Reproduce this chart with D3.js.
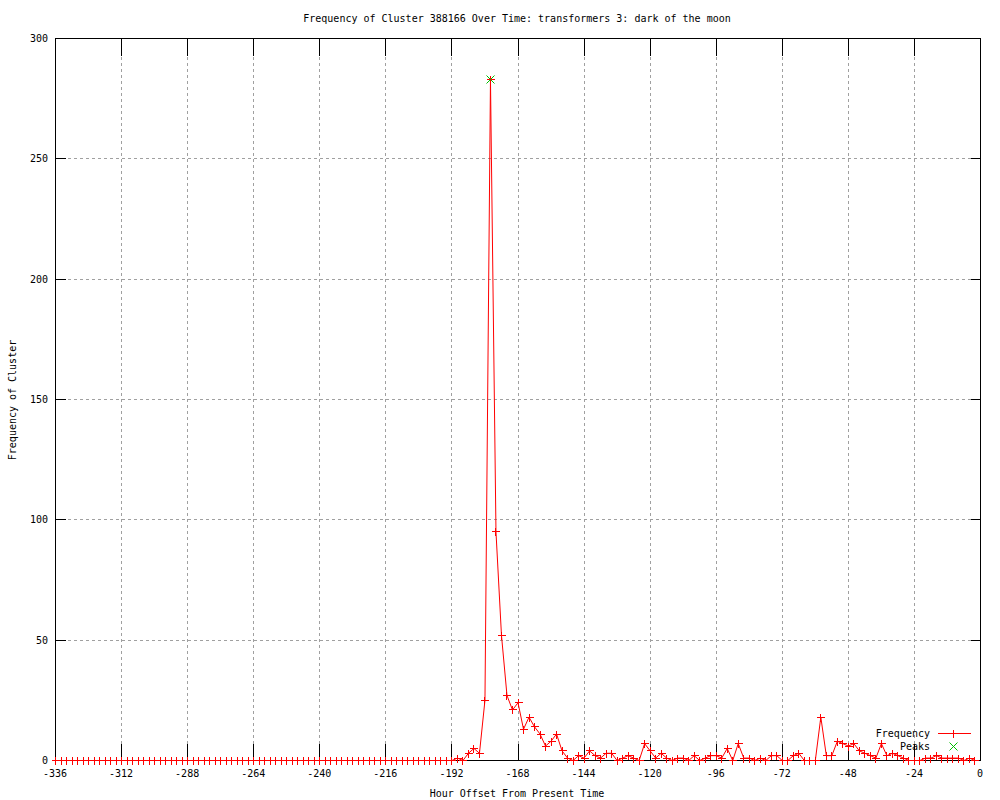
<!DOCTYPE html>
<html>
<head>
<meta charset="utf-8">
<script src="https://cdn.jsdelivr.net/npm/d3@7"></script>
<style>
  html, body { margin: 0; padding: 0; background: #fff; }
  svg { display: block; }
  text { font-family: "DejaVu Sans Mono", "Liberation Mono", monospace; font-size: 10px; fill: #000; }
</style>
</head>
<body>
<svg id="chart" width="1000" height="800"></svg>
<script>
const titleText = "Frequency of Cluster 388166 Over Time: transformers 3: dark of the moon";
const xLabel = "Hour Offset From Present Time";
const yLabel = "Frequency of Cluster";
const seriesNames = ["Frequency", "Peaks"];

const hours = [
  -336,-334,-332,-330,-328,-326,-324,-322,-320,-318,-316,-314,-312,-310,-308,-306,-304,-302,-300,-298,
  -296,-294,-292,-290,-288,-286,-284,-282,-280,-278,-276,-274,-272,-270,-268,-266,-264,-262,-260,-258,
  -256,-254,-252,-250,-248,-246,-244,-242,-240,-238,-236,-234,-232,-230,-228,-226,-224,-222,-220,-218,
  -216,-214,-212,-210,-208,-206,-204,-202,-200,-198,-196,-194,-192,-190,-188,-186,-184,-182,-180,-178,
  -176,-174,-172,-170,-168,-166,-164,-162,-160,-158,-156,-154,-152,-150,-148,-146,-144,-142,-140,-138,
  -136,-134,-132,-130,-128,-126,-124,-122,-120,-118,-116,-114,-112,-110,-108,-106,-104,-102,-100,-98,
  -96,-94,-92,-90,-88,-86,-84,-82,-80,-78,-76,-74,-72,-70,-68,-66,-64,-62,-60,-58,
  -56,-54,-52,-50,-48,-46,-44,-42,-40,-38,-36,-34,-32,-30,-28,-26,-24,-22,-20,-18,
  -16,-14,-12,-10,-8,-6,-4,-2
];
const frequency = [
  0,0,0,0,0,0,0,0,0,0,0,0,0,0,0,0,0,0,0,0,
  0,0,0,0,0,0,0,0,0,0,0,0,0,0,0,0,0,0,0,0,
  0,0,0,0,0,0,0,0,0,0,0,0,0,0,0,0,0,0,0,0,
  0,0,0,0,0,0,0,0,0,0,0,0,0,1,0,3,5,3,25,283,
  95,52,27,21,24,13,18,14,11,6,8,11,4,1,0,2,1,4,2,1,
  3,3,0,1,2,1,0,7,4,1,3,1,0,1,1,0,2,0,1,2,
  2,1,5,0,7,1,1,0,1,0,2,2,0,0,2,3,0,0,0,18,
  2,2,8,7,6,7,4,3,2,1,7,2,3,2,1,0,0,0,1,1,
  2,1,1,1,1,0,1,0
];
const peakHours = [-178];
const peakValues = [283];

const xTicks = [-336,-312,-288,-264,-240,-216,-192,-168,-144,-120,-96,-72,-48,-24,0];
const yTicks = [0,50,100,150,200,250,300];

const RED = "#ff0000", GREEN = "#00c000";
const data = hours.map((h, i) => ({h, v: frequency[i]}));
const peaks = peakHours.map((h, i) => ({h, v: peakValues[i]}));

const L = 55, R = 980, T = 38, B = 760;
const svg = d3.select("#chart");
const g = svg.append("g").attr("transform", "translate(0.5,0.5)");

const x = d3.scaleLinear().domain([-336, 0]).range([L, R]);
const y = d3.scaleLinear().domain([0, 300]).range([B, T]);

// grid
g.append("g").selectAll("line").data(xTicks.slice(1, -1)).join("line")
  .attr("x1", d => Math.round(x(d))).attr("x2", d => Math.round(x(d)))
  .attr("y1", T).attr("y2", B)
  .attr("stroke", "#a0a0a0").attr("stroke-dasharray", "3,3")
  .attr("shape-rendering", "crispEdges");
g.append("g").selectAll("line").data(yTicks.slice(1, -1)).join("line")
  .attr("y1", d => Math.round(y(d))).attr("y2", d => Math.round(y(d)))
  .attr("x1", L).attr("x2", R)
  .attr("stroke", "#a0a0a0").attr("stroke-dasharray", "3,3")
  .attr("shape-rendering", "crispEdges");

// ticks (inside, mirrored)
const tk = g.append("g");
const seg = (sel, x1, y1, x2, y2, color, crisp) => sel.append("line")
  .attr("x1", x1).attr("y1", y1).attr("x2", x2).attr("y2", y2)
  .attr("stroke", color).attr("stroke-width", 1)
  .attr("shape-rendering", crisp ? "crispEdges" : "auto");
xTicks.forEach(d => {
  const px = Math.round(x(d));
  seg(tk, px, B, px, B - 17, "#000", true);
  seg(tk, px, T, px, T + 17, "#000", true);
});
yTicks.forEach(d => {
  const py = Math.round(y(d));
  seg(tk, L, py, L + 10, py, "#000", true);
  seg(tk, R, py, R - 10, py, "#000", true);
});

// border
g.append("rect").attr("x", L).attr("y", T).attr("width", R - L).attr("height", B - T)
  .attr("fill", "none").attr("stroke", "#000").attr("shape-rendering", "crispEdges");

// tick labels
svg.append("g").selectAll("text").data(xTicks).join("text")
  .attr("x", d => x(d)).attr("y", 777).attr("text-anchor", "middle")
  .text(d => String(d));
svg.append("g").selectAll("text").data(yTicks).join("text")
  .attr("x", 48).attr("y", d => y(d) + 4).attr("text-anchor", "end")
  .text(d => String(d));

// titles
svg.append("text").attr("x", 517).attr("y", 22).attr("text-anchor", "middle").text(titleText);
svg.append("text").attr("x", 517).attr("y", 797).attr("text-anchor", "middle").text(xLabel);
svg.append("text").attr("transform", "translate(16,400) rotate(-90)").attr("text-anchor", "middle").text(yLabel);

// data line
const line = d3.line().x(d => x(d.h)).y(d => y(d.v));
g.append("path").datum(data).attr("d", line)
  .attr("fill", "none").attr("stroke", RED).attr("stroke-width", 1);

// + markers
const ms = 4;
const plus = (sel, cx, cy, color) => {
  seg(sel, cx - ms, cy, cx + ms, cy, color, true);
  seg(sel, cx, cy - ms, cx, cy + ms, color, true);
};
const cross = (sel, cx, cy, color) => {
  seg(sel, cx - ms, cy - ms, cx + ms, cy + ms, color, false);
  seg(sel, cx - ms, cy + ms, cx + ms, cy - ms, color, false);
};
const mk = g.append("g");
data.forEach(d => plus(mk, Math.round(x(d.h)), Math.round(y(d.v)), RED));

// peaks x markers
const pk = g.append("g");
peaks.forEach(d => cross(pk, Math.round(x(d.h)), Math.round(y(d.v)), GREEN));

// legend
svg.append("text").attr("x", 930).attr("y", 737).attr("text-anchor", "end").text(seriesNames[0]);
svg.append("text").attr("x", 930).attr("y", 750).attr("text-anchor", "end").text(seriesNames[1]);
const lg = g.append("g");
seg(lg, 937, 733, 970, 733, RED, true);
plus(lg, 953, 733, RED);
cross(lg, 953, 746, GREEN);
</script>
</body>
</html>
